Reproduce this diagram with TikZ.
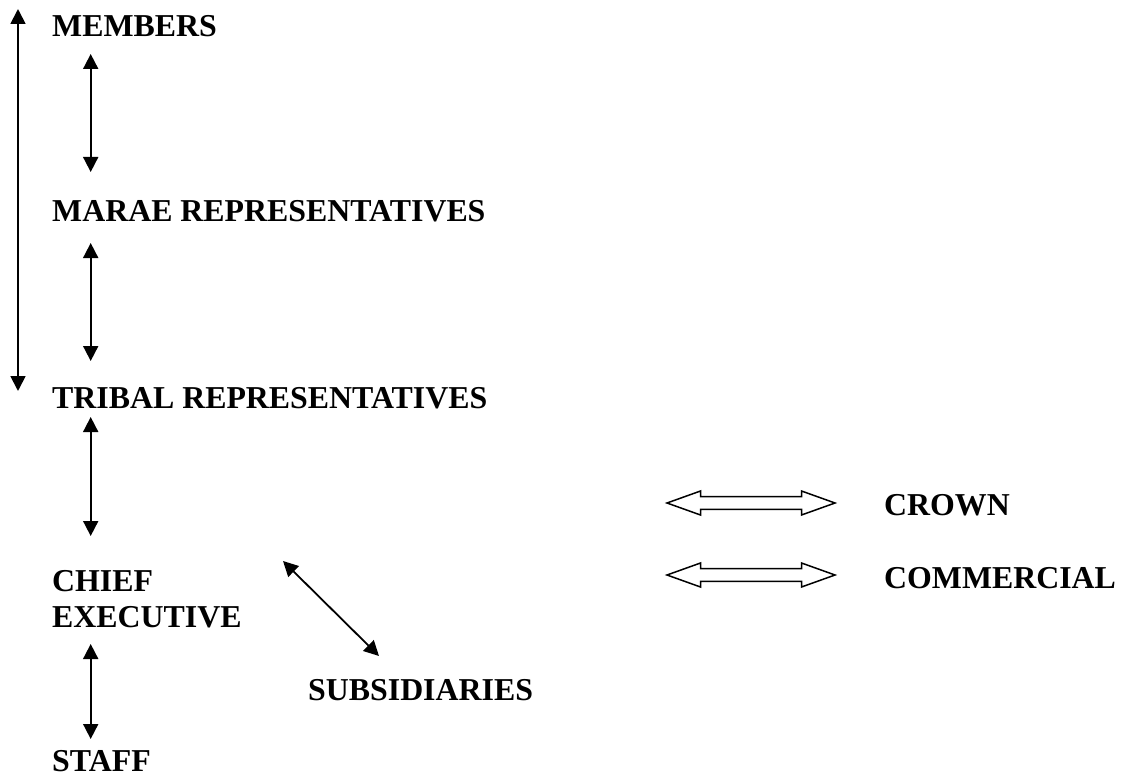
\documentclass[tikz,border=0pt]{standalone}
\usepackage{fontspec}
\setmainfont{Liberation Serif}
\usetikzlibrary{arrows.meta}
\begin{document}
\begin{tikzpicture}[x=1pt,y=-1pt,
  lbl/.style={anchor=base west,inner sep=0pt,font=\bfseries\fontsize{31.85}{36}\selectfont,align=left},
  link/.style={line width=1.8pt,{Triangle[length=15pt,width=15pt]}-{Triangle[length=15pt,width=15pt]}},
  blockarrow/.style={line width=1.5pt,line join=miter}]
\useasboundingbox (0,0) rectangle (1121,778);
% labels
\node[lbl] (members) at (52,37) {MEMBERS};
\node[lbl] (marae) at (52,222) {MARAE REPRESENTATIVES};
\node[lbl] (tribal) at (52,408) {TRIBAL REPRESENTATIVES};
\node[lbl] (chief) at (52,627) {CHIEF\\EXECUTIVE};
\node[lbl,text depth=0pt] (staff) at (52,771) {STAFF};
\node[lbl] (subs) at (308,700) {SUBSIDIARIES};
\node[lbl] (crown) at (884,515) {CROWN};
\node[lbl] (comm) at (884,588) {COMMERCIAL};
% arrow end points
\coordinate (a1) at (90.7,54);  \coordinate (a2) at (90.7,172);
\coordinate (b1) at (90.7,243); \coordinate (b2) at (90.7,361);
\coordinate (c1) at (90.7,417); \coordinate (c2) at (90.7,536);
\coordinate (d1) at (90.7,644); \coordinate (d2) at (90.7,739);
\coordinate (l1) at (18,9);     \coordinate (l2) at (18,391);
\coordinate (s1) at (283,561);  \coordinate (s2) at (379,656);
\draw[link] (a1) -- (a2);
\draw[link] (b1) -- (b2);
\draw[link] (c1) -- (c2);
\draw[link] (d1) -- (d2);
\draw[link] (l1) -- (l2);
\draw[link] (s1) -- (s2);
% block arrows
\foreach \cy in {503,575}{
  \draw[blockarrow] (667,\cy) -- (700.5,\cy-12) -- (700.5,\cy-6.3) -- (801.5,\cy-6.3) -- (801.5,\cy-12)
    -- (835,\cy) -- (801.5,\cy+12) -- (801.5,\cy+6.3) -- (700.5,\cy+6.3) -- (700.5,\cy+12) -- cycle;
}
\end{tikzpicture}
\end{document}
